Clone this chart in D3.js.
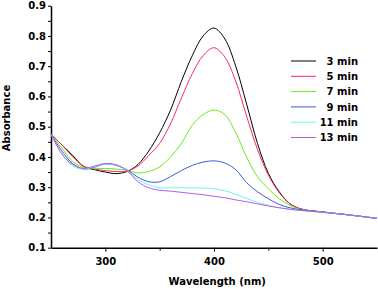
<!DOCTYPE html>
<html>
<head>
<meta charset="utf-8">
<script src="https://cdn.jsdelivr.net/npm/d3@7"></script>
<style>
  body { margin: 0; background: #fff; }
  .chart text { font-family: 'DejaVu Sans', sans-serif; font-weight: bold; font-size: 10px; fill: #000; }
  .axis path, .axis line { stroke: #000; }
  .axis path { stroke-width: 1.5; }
</style>
</head>
<body>
<div class="chart"></div>
<script>
const wavelengths = [250, 260, 270, 280, 290, 300, 310, 320, 330, 340, 350, 360, 370, 380, 390, 400, 410, 420, 430, 440, 450, 460, 470, 480, 500, 525, 550];

const min3 = [0.475, 0.44, 0.405, 0.368, 0.358, 0.35, 0.345, 0.352, 0.375, 0.42, 0.48, 0.555, 0.65, 0.735, 0.80, 0.826, 0.79, 0.70, 0.575, 0.445, 0.346, 0.285, 0.245, 0.228, 0.218, 0.208, 0.197];
const min5 = [0.475, 0.44, 0.40, 0.37, 0.36, 0.355, 0.352, 0.353, 0.37, 0.405, 0.445, 0.51, 0.595, 0.675, 0.735, 0.761, 0.73, 0.65, 0.535, 0.425, 0.34, 0.282, 0.245, 0.228, 0.218, 0.208, 0.197];
const min7 = [0.475, 0.43, 0.385, 0.365, 0.362, 0.362, 0.36, 0.355, 0.347, 0.352, 0.367, 0.40, 0.445, 0.505, 0.54, 0.555, 0.54, 0.48, 0.40, 0.335, 0.295, 0.262, 0.24, 0.226, 0.218, 0.208, 0.197];
const min9 = [0.475, 0.42, 0.378, 0.36, 0.366, 0.377, 0.372, 0.357, 0.333, 0.318, 0.318, 0.335, 0.355, 0.372, 0.383, 0.387, 0.38, 0.358, 0.315, 0.285, 0.262, 0.243, 0.232, 0.225, 0.218, 0.208, 0.197];
const min11 = [0.475, 0.41, 0.37, 0.36, 0.368, 0.377, 0.373, 0.355, 0.325, 0.308, 0.298, 0.298, 0.298, 0.298, 0.297, 0.295, 0.288, 0.277, 0.263, 0.25, 0.24, 0.232, 0.227, 0.223, 0.217, 0.208, 0.197];
const min13 = [0.475, 0.41, 0.375, 0.362, 0.37, 0.378, 0.374, 0.355, 0.318, 0.298, 0.29, 0.287, 0.283, 0.279, 0.275, 0.27, 0.265, 0.258, 0.252, 0.245, 0.238, 0.232, 0.227, 0.223, 0.217, 0.208, 0.197];

const seriesNames = ['3 min', '5 min', '7 min', '9 min', '11 min', '13 min'];
const seriesValues = [min3, min5, min7, min9, min11, min13];
const colors = ['#000000', '#ff2a55', '#66ee11', '#3a58e0', '#6ff5ea', '#b65af0'];

const xTicks = [300, 400, 500];
const xMinor = [350, 450];
const yTicks = [0.1, 0.2, 0.3, 0.4, 0.5, 0.6, 0.7, 0.8, 0.9];
const yMinor = [0.15, 0.25, 0.35, 0.45, 0.55, 0.65, 0.75, 0.85];

const width = 378;
const height = 289;
const margin = { top: 5.7, right: 1, bottom: 41.3, left: 51 };
const chart_width = width - margin.left - margin.right;
const chart_height = height - margin.top - margin.bottom;

const svg = d3.select('.chart').append('svg')
  .attr('width', width)
  .attr('height', height);

const g = svg.append('g')
  .attr('transform', 'translate(' + margin.left + ',' + margin.top + ')');

const x = d3.scaleLinear().domain([250, 550]).range([0, chart_width]);
const y = d3.scaleLinear().domain([0.1, 0.9]).range([chart_height, 0]);

// minor ticks first, so the main axes sit on top
g.append('g')
  .attr('class', 'axis')
  .attr('transform', 'translate(0,' + chart_height + ')')
  .call(d3.axisBottom(x).tickValues(xMinor).tickSize(3).tickFormat(''))
  .select('.domain').remove();

g.append('g')
  .attr('class', 'axis')
  .call(d3.axisLeft(y).tickValues(yMinor).tickSize(3).tickFormat(''))
  .select('.domain').remove();

g.append('g')
  .attr('class', 'axis axis--x')
  .attr('transform', 'translate(0,' + chart_height + ')')
  .call(d3.axisBottom(x).tickValues(xTicks).tickSize(4).tickPadding(6).tickSizeOuter(0));

g.append('g')
  .attr('class', 'axis axis--y')
  .call(d3.axisLeft(y).tickValues(yTicks).tickSize(3).tickPadding(2).tickSizeOuter(0).tickFormat(d3.format('.1f')));

g.selectAll('.axis text')
  .style('font-family', "'DejaVu Sans', sans-serif")
  .style('font-weight', 'bold')
  .style('font-size', '10px');

const line = d3.line()
  .x((d, i) => x(wavelengths[i]))
  .y(d => y(d))
  .curve(d3.curveCatmullRom);

g.selectAll('.spectrum')
  .data(seriesValues)
  .enter()
  .append('path')
  .attr('class', 'spectrum')
  .attr('fill', 'none')
  .attr('stroke', (d, i) => colors[i])
  .attr('stroke-width', 1)
  .attr('d', line);

// legend
const legend = svg.append('g').attr('class', 'legend');

const rows = legend.selectAll('g')
  .data(seriesNames)
  .enter()
  .append('g')
  .attr('transform', (d, i) => 'translate(0,' + (61 + i * 15.3) + ')');

rows.append('line')
  .attr('x1', 291)
  .attr('x2', 316)
  .attr('stroke', (d, i) => colors[i])
  .attr('stroke-width', 1);

rows.append('text')
  .attr('x', 358)
  .attr('y', 3.6)
  .attr('text-anchor', 'end')
  .text(d => d);

svg.append('text')
  .attr('x', margin.left + x(403))
  .attr('y', 285)
  .attr('text-anchor', 'middle')
  .text('Wavelength (nm)');

svg.append('text')
  .attr('transform', 'translate(10,118) rotate(-90)')
  .attr('text-anchor', 'middle')
  .text('Absorbance');
</script>
</body>
</html>
